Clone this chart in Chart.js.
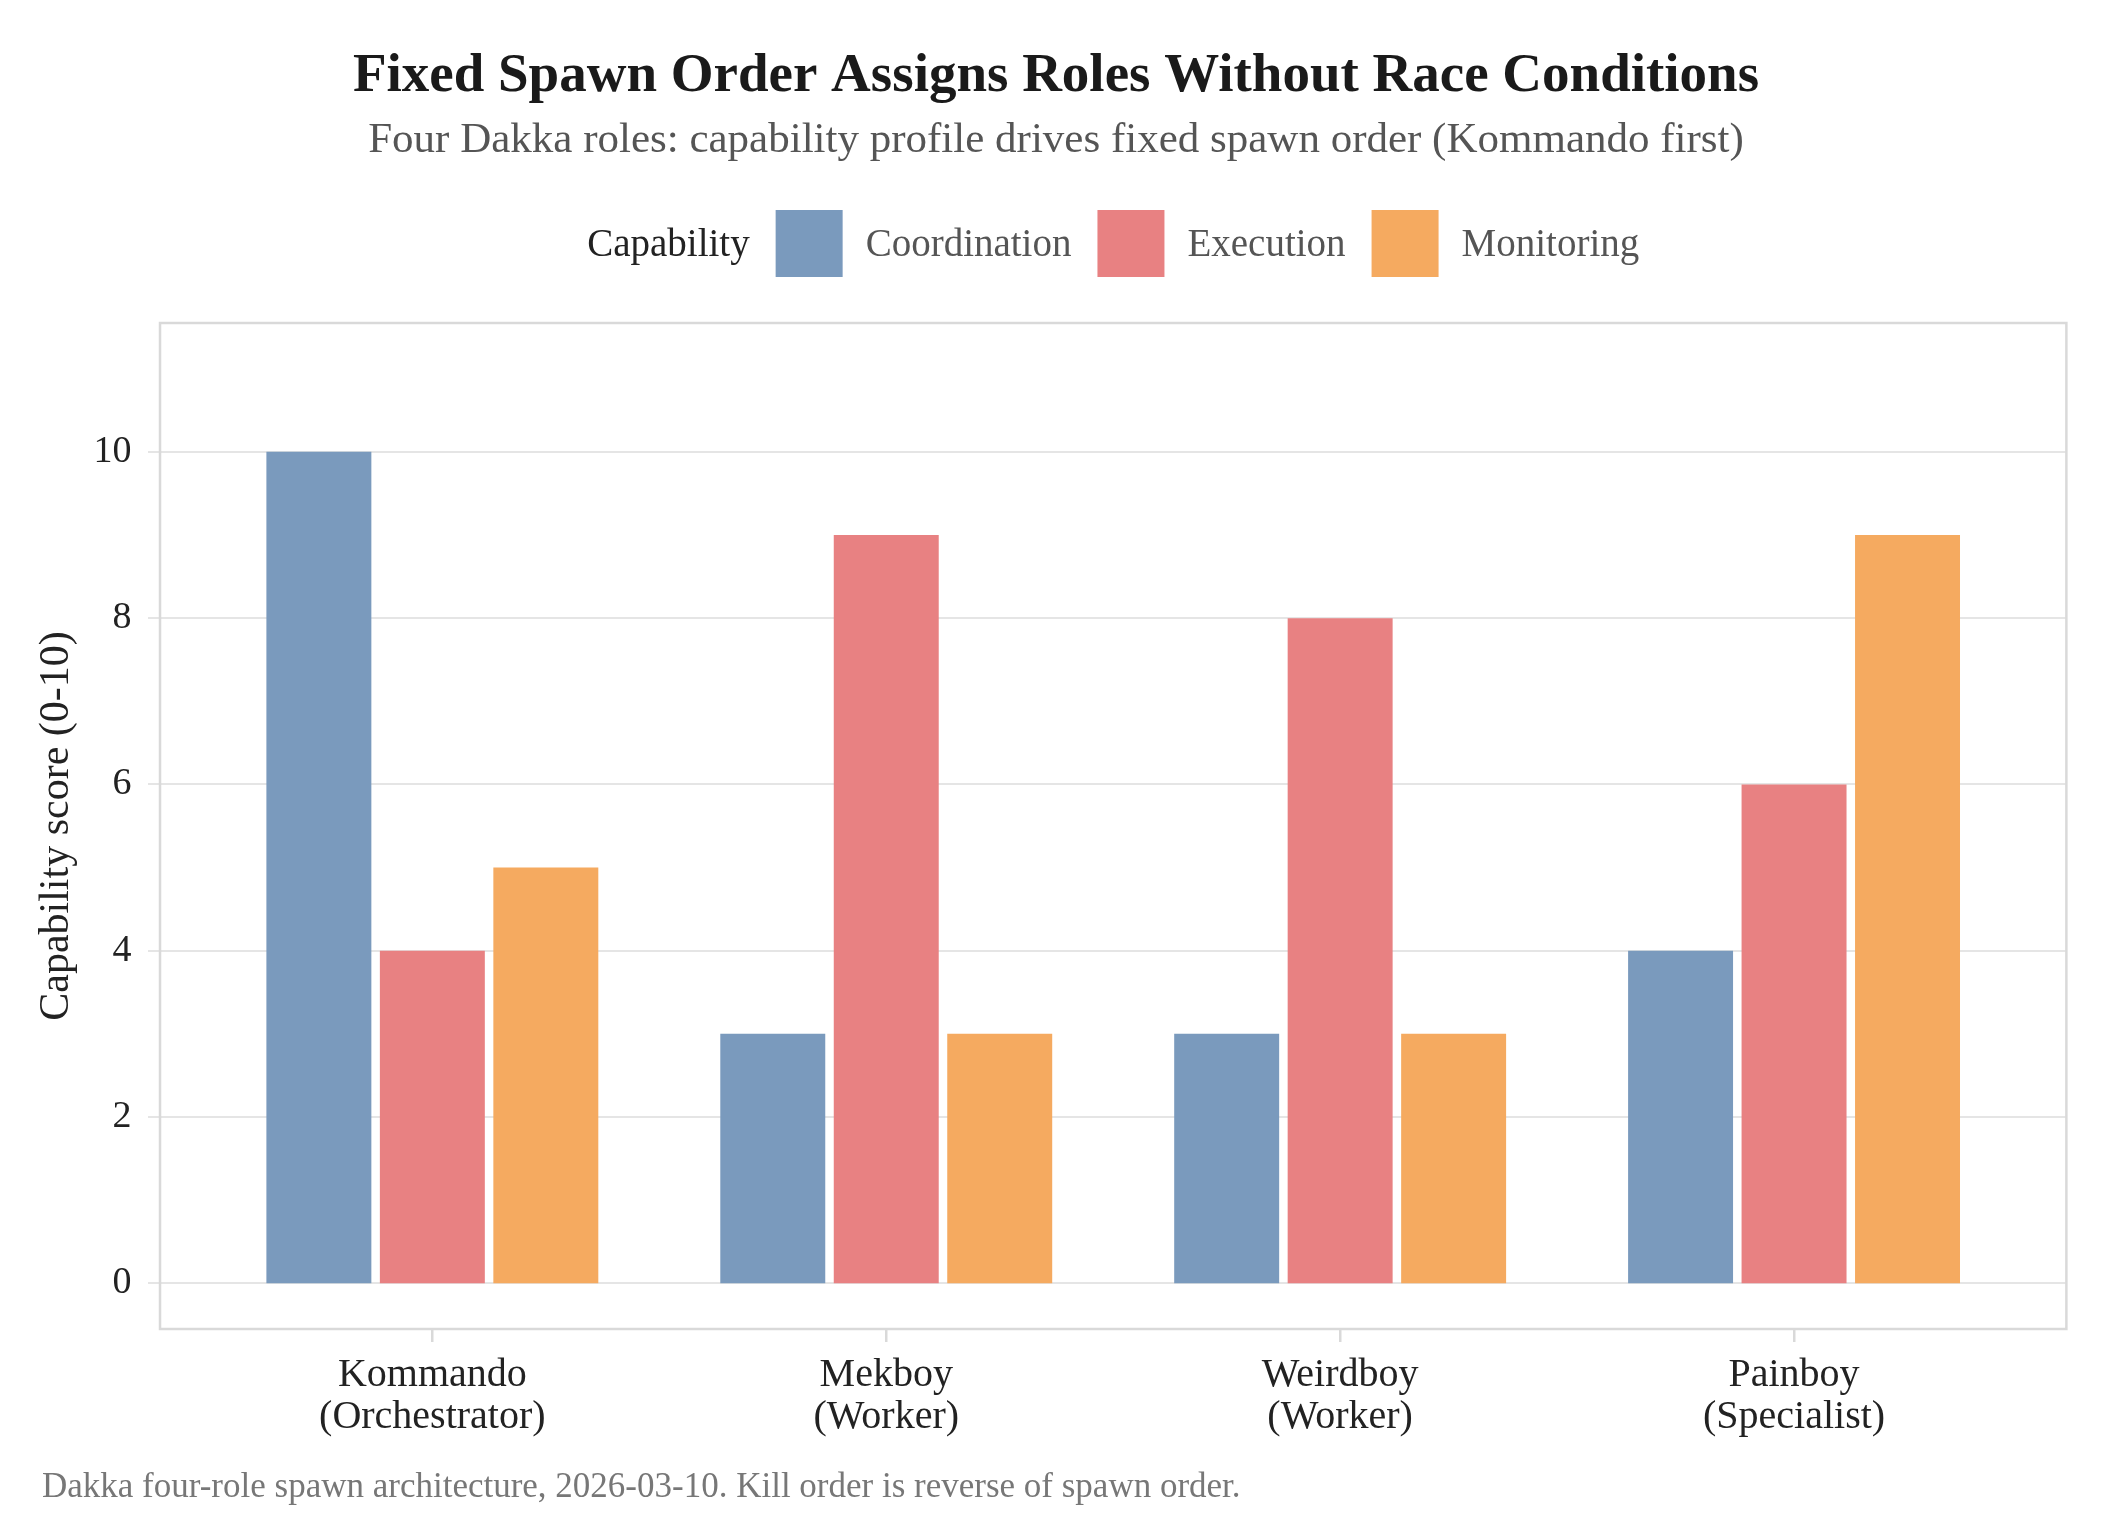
<!DOCTYPE html>
<html>
<head>
<meta charset="utf-8">
<title>Fixed Spawn Order Assigns Roles Without Race Conditions</title>
<script src="https://cdn.jsdelivr.net/npm/chart.js@4.4.1/dist/chart.umd.min.js"></script>
<style>
  html, body { margin: 0; padding: 0; background: #ffffff; }
  #wrap { width: 2125px; height: 1535px; }
</style>
</head>
<body>
<div id="wrap"><canvas id="chart" width="2125" height="1535"></canvas></div>
<script>
// data
const roles = [['Kommando', '(Orchestrator)'], ['Mekboy', '(Worker)'], ['Weirdboy', '(Worker)'], ['Painboy', '(Specialist)']];
const capabilities = ['Coordination', 'Execution', 'Monitoring'];
const coordination = [10, 3, 3, 4];
const execution = [4, 9, 8, 6];
const monitoring = [5, 3, 3, 9];
const yTicks = [0, 2, 4, 6, 8, 10];

const titleText = 'Fixed Spawn Order Assigns Roles Without Race Conditions';
const subtitleText = 'Four Dakka roles: capability profile drives fixed spawn order (Kommando first)';
const legendTitle = 'Capability';
const yTitle = 'Capability score (0-10)';
const captionText = 'Dakka four-role spawn architecture, 2026-03-10. Kill order is reverse of spawn order.';

const barColors = ['#7a9abd', '#e88182', '#f5aa60'];
const SERIF = '"Liberation Serif", "DejaVu Serif", serif';

// panel frame + horizontal grid (the panel is wider than the category area)
const panelPlugin = {
    id: 'panel',
    beforeDatasetsDraw(chart) {
        const { ctx, chartArea, scales } = chart;
        const x = scales.x, y = scales.y;
        const step = x.getPixelForValue(1) - x.getPixelForValue(0);
        const left = x.getPixelForValue(0) - 0.6 * step;
        const right = x.getPixelForValue(roles.length - 1) + 0.6 * step;

        ctx.save();
        ctx.strokeStyle = '#e5e5e5';
        ctx.lineWidth = 2;
        yTicks.forEach(v => {
            const py = Math.round(y.getPixelForValue(v));
            ctx.beginPath();
            ctx.moveTo(left - 12, py);
            ctx.lineTo(right, py);
            ctx.stroke();
        });
        ctx.strokeStyle = '#d9d9d9';
        ctx.lineWidth = 2.5;
        ctx.strokeRect(left, chartArea.top, right - left, chartArea.bottom - chartArea.top);
        ctx.restore();
    }
};

// title, subtitle, legend row and caption
const textPlugin = {
    id: 'texts',
    afterDraw(chart) {
        const { ctx, scales } = chart;
        const x = scales.x;
        const panelCenter = (x.getPixelForValue(0) + x.getPixelForValue(roles.length - 1)) / 2;

        ctx.save();
        ctx.textBaseline = 'alphabetic';
        ctx.textAlign = 'center';

        ctx.fillStyle = '#1a1a1a';
        ctx.font = 'bold 55px ' + SERIF;
        ctx.fillText(titleText, 1056, 91);

        ctx.fillStyle = '#555555';
        ctx.font = '43px ' + SERIF;
        ctx.fillText(subtitleText, 1056, 152);

        // legend
        const box = 67, gapTitle = 26, gapLabel = 23, gapItem = 26;
        ctx.font = '39px ' + SERIF;
        let total = ctx.measureText(legendTitle).width + gapTitle;
        capabilities.forEach((c, i) => {
            total += box + gapLabel + ctx.measureText(c).width;
            if (i < capabilities.length - 1) total += gapItem;
        });
        let lx = panelCenter - total / 2;
        const boxTop = 210, baseline = 256;
        ctx.textAlign = 'left';
        ctx.fillStyle = '#222222';
        ctx.fillText(legendTitle, lx, baseline);
        lx += ctx.measureText(legendTitle).width + gapTitle;
        capabilities.forEach((c, i) => {
            ctx.fillStyle = barColors[i];
            ctx.fillRect(lx, boxTop, box, box);
            lx += box + gapLabel;
            ctx.fillStyle = '#555555';
            ctx.fillText(c, lx, baseline);
            lx += ctx.measureText(c).width + gapItem;
        });

        // caption
        ctx.fillStyle = '#777777';
        ctx.font = '35px ' + SERIF;
        ctx.fillText(captionText, 42, 1497);
        ctx.restore();
    }
};

const seriesValues = [coordination, execution, monitoring];

new Chart(document.getElementById('chart').getContext('2d'), {
    type: 'bar',
    data: {
        labels: roles,
        datasets: capabilities.map((name, i) => ({
            label: name,
            data: seriesValues[i],
            backgroundColor: barColors[i],
            borderWidth: 0,
            categoryPercentage: 0.75,
            barPercentage: 0.925
        }))
    },
    options: {
        responsive: false,
        devicePixelRatio: 1,
        animation: false,
        layout: { padding: { top: 323, right: 104, bottom: 0, left: 0 } },
        plugins: {
            legend: { display: false },
            title: { display: false },
            tooltip: { enabled: false }
        },
        scales: {
            x: {
                offset: true,
                grid: {
                    display: true,
                    drawOnChartArea: false,
                    drawTicks: true,
                    tickLength: 13,
                    color: '#d9d9d9',
                    lineWidth: 2.5,
                    offset: false
                },
                border: { display: false },
                ticks: {
                    color: '#222222',
                    font: { family: SERIF, size: 40, lineHeight: 1.05 },
                    padding: 12,
                    maxRotation: 0
                },
                afterFit(scale) { scale.height = 206; }
            },
            y: {
                min: -0.55,
                max: 11.55,
                grid: { display: false, drawTicks: false },
                border: { display: false },
                afterBuildTicks(scale) {
                    scale.ticks = yTicks.map(v => ({ value: v }));
                },
                ticks: {
                    color: '#222222',
                    font: { family: SERIF, size: 38 },
                    padding: 74
                },
                title: {
                    display: true,
                    text: yTitle,
                    color: '#222222',
                    font: { family: SERIF, size: 42 },
                    padding: { top: 32, bottom: 0 }
                },
                afterFit(scale) { scale.width = 205.4; }
            }
        }
    },
    plugins: [panelPlugin, textPlugin]
});
</script>
</body>
</html>
